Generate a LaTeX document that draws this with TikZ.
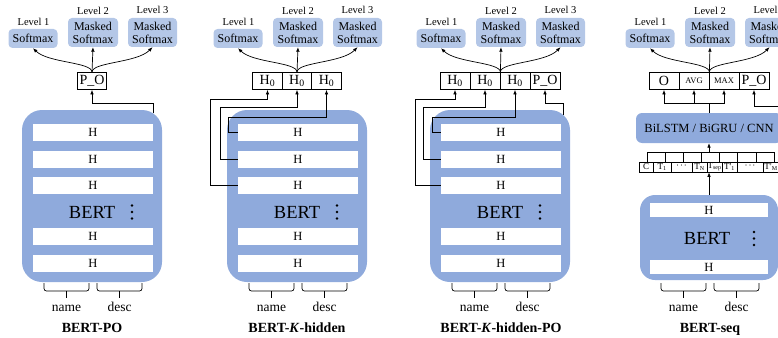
\documentclass[tikz,border=0pt]{standalone}
\usepackage{fontspec}
\setmainfont{Liberation Serif}
\usetikzlibrary{arrows.meta}
\definecolor{bertblue}{HTML}{8FAADC}
\definecolor{softblue}{HTML}{B4C7E7}
\tikzset{
  bertbox/.style={fill=bertblue, draw=none, rounded corners=20pt, minimum width=140pt, minimum height=172pt, inner sep=0pt},
  hbar/.style={fill=white, draw=none, minimum width=120pt, minimum height=17pt, inner sep=0pt, font=\fontsize{12.5}{13}\selectfont},
  outbox/.style={draw=black, line width=0.8pt, fill=white, minimum height=17pt, inner sep=0pt, font=\fontsize{14}{14}\selectfont},
  softbox/.style={fill=softblue, rounded corners=4pt, inner sep=0pt, align=center, font=\fontsize{12}{13}\selectfont},
  lvl/.style={font=\fontsize{10.5}{11}\selectfont, inner sep=0pt, anchor=base},
  berttext/.style={font=\fontsize{18.5}{19}\selectfont, inner sep=0pt, anchor=base},
  lbl/.style={font=\fontsize{13.5}{14}\selectfont, inner sep=0pt, anchor=base},
  ttl/.style={font=\fontsize{14}{14}\selectfont\bfseries, inner sep=0pt, anchor=base},
  tok/.style={draw=black, line width=0.6pt, fill=white, minimum height=10pt, inner sep=0pt, font=\fontsize{9}{9}\selectfont},
  arr/.style={-{Latex[length=4.5pt,width=3.6pt]}, line width=0.7pt},
  conn/.style={line width=0.7pt},
}
\newcommand{\tokdots}{\raisebox{0pt}{·\kern0.8pt·\kern0.8pt·}}
\newcommand{\drawSofts}[1]{%
  \node[softbox, minimum width=49pt, minimum height=19pt] (#1-s1) at (33,38.5) {Softmax};
  \node[softbox, minimum width=50pt, minimum height=29pt] (#1-s2) at (93,32.5) {Masked\\Softmax};
  \node[softbox, minimum width=49pt, minimum height=29pt] (#1-s3) at (152.5,32.5) {Masked\\Softmax};
  \node[lvl] (#1-l1) at (33.5,26) {Level 1};
  \node[lvl] (#1-l2) at (93,14.5) {Level 2};
  \node[lvl] (#1-l3) at (152.5,14) {Level 3};
}
\newcommand{\drawOutArrows}[1]{%
  \draw[arr] (#1-src) .. controls (92,62) and (48,63) .. (#1-s1.south);
  \draw[arr] (#1-src) -- (#1-s2.south);
  \draw[arr] (#1-src) .. controls (92,62) and (137,63) .. (#1-s3.south);
}
\newcommand{\drawBert}[1]{%
  \node[bertbox] (#1-bert) at (92,196) {};
  \node[hbar] (#1-h1) at (93,132.5) {H};
  \node[hbar] (#1-h2) at (93,159.5) {H};
  \node[hbar] (#1-h3) at (93,185.5) {H};
  \node[hbar] (#1-h4) at (93,236.5) {H};
  \node[hbar] (#1-h5) at (93,263.5) {H};
  \node[berttext] (#1-bt) at (92,218.5) {BERT};
  \fill (132,205.5) circle (1.3pt) (132,212) circle (1.3pt) (132,218.5) circle (1.3pt);
}
\newcommand{\drawBraces}[1]{%
  \draw[conn, rounded corners=2.5pt] (44,283) -- (44,291) -- (89,291) -- (89,283);
  \draw[conn] (66.5,291) -- (66.5,297.5);
  \draw[conn, rounded corners=2.5pt] (97,283) -- (97,291) -- (142,291) -- (142,283);
  \draw[conn] (119.5,291) -- (119.5,297.5);
  \node[lbl] (#1-name) at (66.5,311.5) {name};
  \node[lbl] (#1-desc) at (119.5,311.5) {desc};
}
\begin{document}
\begin{tikzpicture}[x=1pt,y=-1pt]
\useasboundingbox (0,0) rectangle (778,337);
\clip (0,0) rectangle (778,337);

% ---------------- Panel 1: BERT-PO
\begin{scope}
  \drawBert{a}
  \drawSofts{a}
  \node[outbox, minimum width=29pt] (a-po) at (92,81) {P\_O};
  \coordinate (a-src) at (a-po.north);
  \drawOutArrows{a}
  \coordinate (a-posrc) at (153,113);
  \draw[arr] (a-posrc) -- (153,103) -| (a-po.south);
  \drawBraces{a}
  \node[ttl] (a-title) at (92,332.5) {BERT-PO};
\end{scope}

% ---------------- Panel 2: BERT-K-hidden
\begin{scope}[xshift=205pt]
  \drawBert{b}
  \drawSofts{b}
  \node[outbox, minimum width=29.5pt] (b-o1) at (62.5,81) {H\textsubscript{0}};
  \node[outbox, minimum width=29.5pt] (b-o2) at (92,81) {H\textsubscript{0}};
  \node[outbox, minimum width=29.5pt] (b-o3) at (121.5,81) {H\textsubscript{0}};
  \coordinate (b-src) at (b-o2.north);
  \drawOutArrows{b}
  \draw[arr] (b-h3.west) -| (5,99) -| (b-o1.south);
  \draw[arr] (b-h2.west) -| (15,107) -| (b-o2.south);
  \draw[arr] (b-h1.west) -| (23.5,117) -| (b-o3.south);
  \drawBraces{b}
  \node[ttl] (b-title) at (92,332.5) {BERT-\textit{K}-hidden};
\end{scope}

% ---------------- Panel 3: BERT-K-hidden-PO
\begin{scope}[xshift=408pt]
  \drawBert{c}
  \drawSofts{c}
  \node[outbox, minimum width=30pt] (c-o1) at (47,81) {H\textsubscript{0}};
  \node[outbox, minimum width=30pt] (c-o2) at (77,81) {H\textsubscript{0}};
  \node[outbox, minimum width=30pt] (c-o3) at (107,81) {H\textsubscript{0}};
  \node[outbox, minimum width=30pt] (c-po) at (137,81) {P\_O};
  \coordinate (c-src) at (c-o2.north east);
  \drawOutArrows{c}
  \draw[arr] (c-h3.west) -| (7,99) -| (c-o1.south);
  \draw[arr] (c-h2.west) -| (15,107) -| (c-o2.south);
  \draw[arr] (c-h1.west) -| (24,117) -| (c-o3.south);
  \coordinate (c-posrc) at (155,115);
  \draw[arr] (c-posrc) -- (155,103) -| (c-po.south);
  \drawBraces{c}
  \node[ttl] (c-title) at (93,332.5) {BERT-\textit{K}-hidden-PO};
\end{scope}

% ---------------- Panel 4: BERT-seq
\begin{scope}[xshift=617pt]
  \drawSofts{d}
  \node[outbox, minimum width=30pt] (d-o) at (47,81) {O};
  \node[outbox, minimum width=30pt, font=\fontsize{8.5}{8.5}\selectfont] (d-avg) at (77,81) {AVG};
  \node[outbox, minimum width=30pt, font=\fontsize{8.5}{8.5}\selectfont] (d-max) at (107,81) {MAX};
  \node[outbox, minimum width=30pt] (d-po) at (137,81) {P\_O};
  \coordinate (d-src) at (d-avg.north east);
  \drawOutArrows{d}
  \node[fill=bertblue, rounded corners=6pt, minimum width=146pt, minimum height=30pt, inner sep=0pt,
        font=\fontsize{12.5}{13}\selectfont] (d-lstm) at (92,128) {BiLSTM / BiGRU / CNN};
  \coordinate (d-bus) at (92,103);
  \draw[conn] (d-lstm.north) -- (d-bus);
  \draw[arr] (d-bus) -| (d-o.south);
  \draw[arr] (d-bus) -| (d-avg.south);
  \draw[arr] (d-bus) -| (d-max.south);
  \coordinate (d-posrc) at (175,237);
  \draw[arr] (d-posrc) -- (175,106) -| (d-po.south);
  % tokens
  \node[tok, minimum width=14pt] (d-t1) at (29,167) {C};
  \node[tok, minimum width=18pt] (d-t2) at (45,167) {T\textsubscript{1}};
  \node[tok, minimum width=21pt] (d-t3) at (64.5,167) {\tokdots};
  \node[tok, minimum width=15pt] (d-t4) at (82.5,167) {T\textsubscript{N}};
  \node[tok, minimum width=15pt] (d-t5) at (97.5,167) {T\textsubscript{sep}};
  \node[tok, minimum width=15pt] (d-t6) at (112.5,167) {T\kern0.3pt\textquotesingle\textsubscript{1}};
  \node[tok, minimum width=26pt] (d-t7) at (133,167) {\tokdots};
  \node[tok, minimum width=16pt] (d-t8) at (154,167) {T\kern0.3pt\textquotesingle\textsubscript{M}};
  \draw[conn] (30,152) -- (157,152);
  \foreach \i in {0,...,7} {\draw[conn] (30+\i*18.14,152) -- (30+\i*18.14,162);}
  \coordinate (d-comb) at (92,152);
  \draw[arr] (d-comb) -- (d-lstm.south);
  % BERT
  \node[fill=bertblue, rounded corners=15pt, minimum width=138pt, minimum height=85pt, inner sep=0pt] (d-bert) at (92,237.5) {};
  \node[hbar, minimum width=118pt, minimum height=14.5pt] (d-h1) at (92,210) {H};
  \node[hbar, minimum width=118pt, minimum height=14.5pt] (d-h2) at (92,267) {H};
  \node[berttext] (d-bt) at (90,244) {BERT};
  \fill (137,232) circle (1.3pt) (137,238.5) circle (1.3pt) (137,245) circle (1.3pt);
  \coordinate (d-bertsrc) at (92,195);
  \draw[arr] (d-bertsrc) -- (d-bertsrc |- d-t5.south);
  \drawBraces{d}
  \node[ttl] (d-title) at (93,332.5) {BERT-seq};
\end{scope}
\end{tikzpicture}
\end{document}
